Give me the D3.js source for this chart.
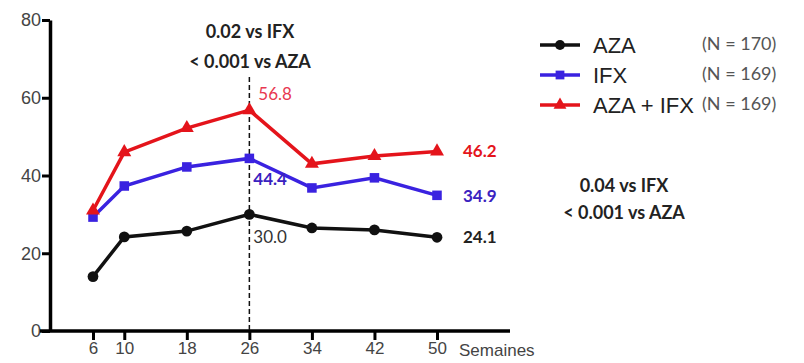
<!DOCTYPE html>
<html>
<head>
<meta charset="utf-8">
<script src="https://cdn.jsdelivr.net/npm/d3@7"></script>
<style>
  body { margin: 0; background: #fff; }
  svg { display: block; }
</style>
</head>
<body>
<svg id="chart" width="804" height="363"></svg>
<script>
// Data
const weeks = [6, 10, 18, 26, 34, 42, 50];
const yTicks = [0, 20, 40, 60, 80];
const aza = [14.0, 24.2, 25.7, 30.0, 26.5, 26.0, 24.1];
const ifx = [29.3, 37.3, 42.2, 44.4, 36.8, 39.4, 34.9];
const azaIfx = [31.0, 46.0, 52.2, 56.8, 43.0, 45.0, 46.2];
const seriesNames = ["AZA", "IFX", "AZA + IFX"];
const seriesN = ["(N = 170)", "(N = 169)", "(N = 169)"];

const series = [
    { name: seriesNames[0], n: seriesN[0], values: aza, color: "#111111", symbol: d3.symbolCircle, size: 70 },
    { name: seriesNames[1], n: seriesN[1], values: ifx, color: "#3a22e0", symbol: d3.symbolSquare, size: 70 },
    { name: seriesNames[2], n: seriesN[2], values: azaIfx, color: "#e4141b", symbol: d3.symbolTriangle, size: 65 }
];

const svg = d3.select("#chart");
const x = d3.scaleLinear().domain([6, 50]).range([93, 437]);
const y = d3.scaleLinear().domain([0, 80]).range([331, 20]);
const font = "Lato, 'Open Sans', sans-serif";
const tickFont = "'Liberation Sans', Arial, sans-serif";

// Axes
const yAxis = svg.append("g")
    .attr("transform", "translate(50,0)")
    .call(d3.axisLeft(y).tickValues(yTicks).tickSize(8).tickSizeOuter(0));
yAxis.select(".domain").attr("stroke", "#000").attr("stroke-width", 3.5);
yAxis.selectAll(".tick line").attr("stroke", "#000").attr("stroke-width", 3);
yAxis.selectAll(".tick text")
    .attr("font-family", tickFont)
    .attr("font-size", 18).attr("fill", "#444").attr("x", -9);

const xAxis = svg.append("g")
    .attr("transform", "translate(0,331)")
    .call(d3.axisBottom(x).tickValues(weeks).tickSize(9).tickSizeOuter(0));
xAxis.select(".domain").attr("d", "M40,0H510").attr("stroke", "#000").attr("stroke-width", 3.5);
xAxis.selectAll(".tick line").attr("stroke", "#000").attr("stroke-width", 3);
xAxis.selectAll(".tick text")
    .attr("font-family", tickFont)
    .attr("font-size", 17).attr("fill", "#444").attr("y", 11);

svg.append("text")
    .attr("x", 459).attr("y", 356)
    .attr("font-family", tickFont)
    .attr("font-size", 17).attr("fill", "#444")
    .text("Semaines");

// Dashed reference line at week 26
svg.append("line")
    .attr("x1", x(26)).attr("x2", x(26))
    .attr("y1", 77).attr("y2", 331)
    .attr("stroke", "#111").attr("stroke-width", 1.5)
    .attr("stroke-dasharray", "5,3");

// Lines and markers
const line = d3.line().x((d, i) => x(weeks[i])).y(d => y(d));
series.forEach(s => {
    svg.append("path")
        .attr("d", line(s.values))
        .attr("fill", "none")
        .attr("stroke", s.color)
        .attr("stroke-width", 3.5);
    svg.append("g").selectAll("path")
        .data(s.values)
        .join("path")
        .attr("transform", (d, i) => `translate(${x(weeks[i])},${y(d)})`)
        .attr("d", d3.symbol().type(s.symbol).size(s.size * 1.3))
        .attr("fill", s.color);
});

// Value labels
const labels = [
    { text: "56.8", x: x(26) + 9, y: y(56.8) - 10, color: "#e83850", weight: "normal" },
    { text: "44.4", x: x(26) + 4, y: y(44.4) + 27, color: "#3a22c0", weight: "bold" },
    { text: "30.0", x: x(26) + 4, y: y(30.0) + 29, color: "#333", weight: "normal" },
    { text: "46.2", x: 463, y: y(46.2) + 6, color: "#e4141b", weight: "bold" },
    { text: "34.9", x: 463, y: y(34.9) + 7, color: "#3a22c0", weight: "bold" },
    { text: "24.1", x: 463, y: y(24.1) + 6, color: "#222", weight: "bold" }
];
svg.append("g").selectAll("text")
    .data(labels)
    .join("text")
    .attr("x", d => d.x).attr("y", d => d.y)
    .attr("font-family", font).attr("font-size", 17)
    .attr("font-weight", d => d.weight)
    .attr("fill", d => d.color)
    .text(d => d.text);

// p-value annotations
const notes = [
    { text: "0.02 vs IFX", x: 250, y: 38 },
    { text: "< 0.001 vs AZA", x: 250, y: 68 },
    { text: "0.04 vs IFX", x: 624, y: 192 },
    { text: "< 0.001 vs AZA", x: 624, y: 219 }
];
svg.append("g").selectAll("text")
    .data(notes)
    .join("text")
    .attr("x", d => d.x).attr("y", d => d.y)
    .attr("text-anchor", "middle")
    .attr("font-family", font).attr("font-size", 18)
    .attr("font-weight", "bold").attr("fill", "#222")
    .text(d => d.text);

// Legend
const legend = svg.append("g").attr("transform", "translate(540,45)");
series.forEach((s, i) => {
    const g = legend.append("g").attr("transform", `translate(0,${i * 30})`);
    g.append("line").attr("x1", 0).attr("x2", 40)
        .attr("stroke", s.color).attr("stroke-width", 3.5);
    g.append("path").attr("transform", "translate(20,0)")
        .attr("d", d3.symbol().type(s.symbol).size(s.size * 1.1))
        .attr("fill", s.color);
    g.append("text").attr("x", 53).attr("y", 8)
        .attr("font-family", tickFont)
        .attr("font-size", 22).attr("fill", "#222")
        .text(s.name);
    g.append("text").attr("x", 162).attr("y", 5)
        .attr("font-family", font)
        .attr("font-size", 18).attr("fill", "#555")
        .text(s.n);
});
</script>
</body>
</html>
